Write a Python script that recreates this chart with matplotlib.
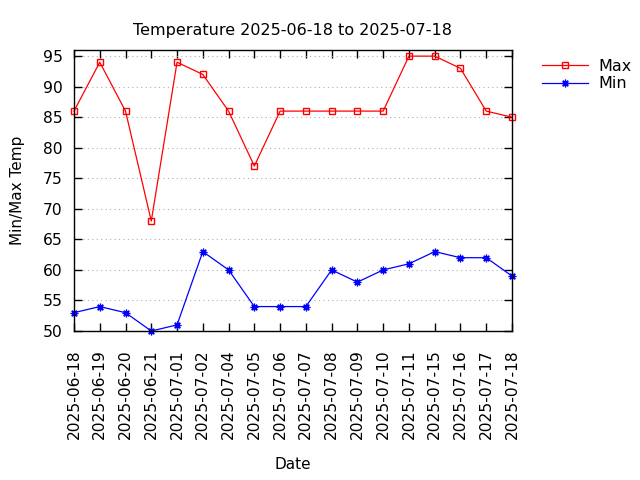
import matplotlib
matplotlib.use('Agg')
import matplotlib.pyplot as plt

# ── Data ──────────────────────────────────────────────────────────────
dates = ['2025-06-18', '2025-06-19', '2025-06-20', '2025-06-21',
         '2025-07-01', '2025-07-02', '2025-07-04', '2025-07-05',
         '2025-07-06', '2025-07-07', '2025-07-08', '2025-07-09',
         '2025-07-10', '2025-07-11', '2025-07-15', '2025-07-16',
         '2025-07-17', '2025-07-18']
t_max = [86, 94, 86, 68, 94, 92, 86, 77, 86, 86, 86, 86, 86, 95, 95, 93, 86, 85]
t_min = [53, 54, 53, 50, 51, 63, 60, 54, 54, 54, 60, 58, 60, 61, 63, 62, 62, 59]
y_ticks = [50, 55, 60, 65, 70, 75, 80, 85, 90, 95]

# ── Figure ────────────────────────────────────────────────────────────
fig = plt.figure(figsize=(6.4, 4.8), dpi=100)
ax = fig.add_axes([0.1156, 0.3104, 0.6844, 0.5854])

x = list(range(len(dates)))
ax.plot(x, t_max, color='red', lw=0.9, marker='s', ms=4.8,
        mfc='none', mec='red', mew=1.0, label='Max', clip_on=False)
ax.plot(x, t_min, color='blue', lw=0.9, marker=(8, 2, 0), ms=5.5,
        mec='blue', mew=0.9, label='Min', clip_on=False)

ax.set_xlim(0, len(dates) - 1)
ax.set_ylim(50, 96)
ax.set_xticks(x)
ax.set_xticklabels(dates, rotation=90, fontsize=11.2)
ax.set_yticks(y_ticks)
ax.tick_params(axis='y', labelsize=11.2, pad=8)
ax.tick_params(axis='x', pad=13)
ax.tick_params(direction='in', top=True, right=True, length=6, width=1)

ax.grid(axis='y', color='#b0b0b0', linestyle=(0, (1, 3)), linewidth=0.8)
for s in ax.spines.values():
    s.set_linewidth(1)

ax.set_title('Temperature 2025-06-18 to 2025-07-18', fontsize=11.5, pad=11)
ax.set_xlabel('Date', fontsize=11, labelpad=13)
ax.set_ylabel('Min/Max Temp', fontsize=11, labelpad=13)

fig.legend(loc='upper left', bbox_to_anchor=(0.847, 0.877), frameon=False,
           fontsize=11.5, handlelength=2.9, labelspacing=0.15, handletextpad=0.6,
           borderpad=0, borderaxespad=0)

fig.savefig('out.png', dpi=100, facecolor='white')
